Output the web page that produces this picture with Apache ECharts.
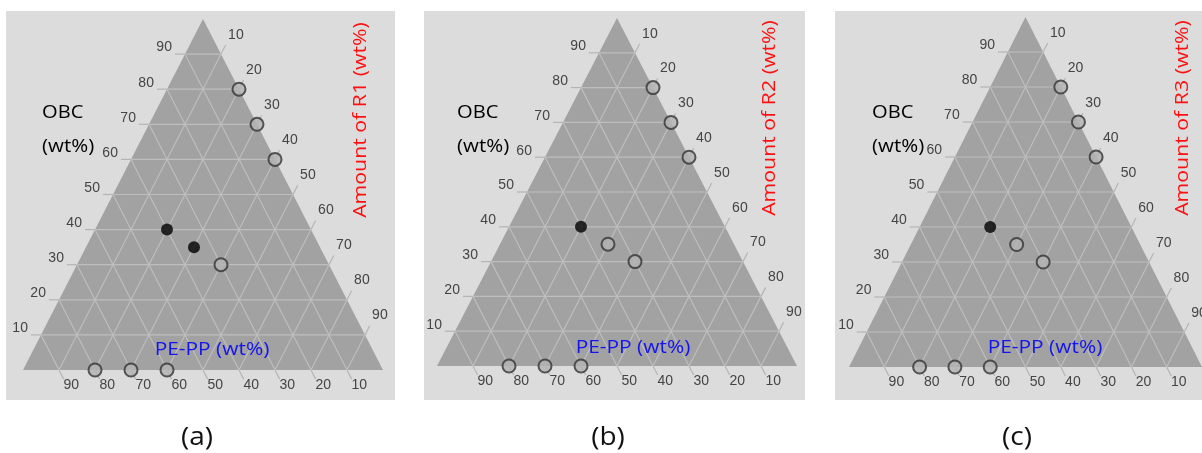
<!DOCTYPE html>
<html>
<head>
<meta charset="utf-8">
<script src="https://cdn.jsdelivr.net/npm/echarts@6/dist/echarts.min.js"></script>
<style>
  html, body { margin: 0; padding: 0; background: #ffffff; }
  #chart { width: 1202px; height: 453px; }
</style>
</head>
<body>
<div id="chart"></div>
<script>
// Ternary grid values (wt%) shared by all three edges
const tickValues = [10, 20, 30, 40, 50, 60, 70, 80, 90];
const tickLabels = ['10', '20', '30', '40', '50', '60', '70', '80', '90'];

// Compositions as [OBC, PE-PP, R] in wt%
const openA   = [[80, 0, 20], [70, 0, 30], [60, 0, 40], [30, 30, 40], [0, 80, 20], [0, 70, 30], [0, 60, 40]];
const filledA = [[40, 40, 20], [35, 35, 30]];
const openB   = [[80, 0, 20], [70, 0, 30], [60, 0, 40], [35, 35, 30], [30, 30, 40], [0, 80, 20], [0, 70, 30], [0, 60, 40]];
const filledB = [[40, 40, 20]];
const openC   = [[80, 0, 20], [70, 0, 30], [60, 0, 40], [35, 35, 30], [30, 30, 40], [0, 80, 20], [0, 70, 30], [0, 60, 40]];
const filledC = [[40, 40, 20]];

// Triangle corners: pure OBC (top), pure PE-PP (bottom left), pure R (bottom right)
const corners = [[100, 0, 0], [0, 100, 0], [0, 0, 100]];

const panelLetters = ['(a)', '(b)', '(c)'];
const resinNames = ['R1', 'R2', 'R3'];
const openSets = [openA, openB, openC];
const filledSets = [filledA, filledB, filledC];

// Panel layout in pixels
const layout = [
  { box: [6, 11, 389, 389],   grid: { left: 23,  top: 19, width: 360, height: 351 },
    obc: [42, 113, 147],  resin: [361, 120],  pe: [212, 350],  letter: [197, 438] },
  { box: [424, 11, 381, 389], grid: { left: 437, top: 18, width: 360, height: 348 },
    obc: [457, 113, 147], resin: [770, 118],  pe: [633, 348],  letter: [608, 438] },
  { box: [835, 11, 380, 389], grid: { left: 849, top: 17, width: 360, height: 350 },
    obc: [872, 113, 147], resin: [1183, 118], pe: [1045, 348], letter: [1017, 438] }
];

// Ternary [OBC, PE-PP, R] -> cartesian [x, y] on a 0..100 frame
function toXY(c) { return [c[2] + c[0] / 2, c[0]]; }

const COLORS = {
  box: '#dcdcdc', tri: '#a2a2a2', grid: '#bebebe', tick: '#b4b4b4',
  tickText: '#444444', open: '#b3b3b3', openBorder: '#333333', filled: '#000000'
};
const TICK_FONT = '14px "Liberation Sans", Arial, sans-serif';
const LABEL_FONT = '19px "Open Sans", "Noto Sans", sans-serif';

function triangleSeries(i) {
  return {
    type: 'custom', xAxisIndex: i, yAxisIndex: i, clip: false, silent: true, z: 1,
    data: [[0, 0]],
    renderItem: function (params, api) {
      const pts = corners.map(function (c) { return api.coord(toXY(c)); });
      return { type: 'polygon', shape: { points: pts }, style: { fill: COLORS.tri } };
    }
  };
}

function gridSeries(i) {
  const eL = 2.8, eR = 2.6, eB = 2.6;      // tick extensions beyond each edge
  return {
    type: 'custom', xAxisIndex: i, yAxisIndex: i, clip: false, silent: true, z: 2,
    data: tickValues.map(function (v, k) { return [v, k]; }),
    renderItem: function (params, api) {
      const v = api.value(0);
      const label = tickLabels[api.value(1)];
      const P = function (c) { return api.coord(toXY(c)); };
      const line = function (a, b, color) {
        const p = P(a), q = P(b);
        return { type: 'line', shape: { x1: p[0], y1: p[1], x2: q[0], y2: q[1] },
                 style: { stroke: color, lineWidth: 1.2 } };
      };
      const text = function (pos, dx, dy, align) {
        return { type: 'text', x: pos[0] + dx, y: pos[1] + dy,
                 style: { text: label, font: TICK_FONT, fill: COLORS.tickText,
                          align: align, verticalAlign: 'middle' } };
      };
      return {
        type: 'group',
        children: [
          // grid lines of constant OBC, R and PE-PP
          line([v, 100 - v, 0], [v, 0, 100 - v], COLORS.grid),
          line([100 - v, 0, v], [0, 100 - v, v], COLORS.grid),
          line([100 - v, v, 0], [0, v, 100 - v], COLORS.grid),
          // outside ticks
          line([v, 100 - v, 0], [v, 100 - v + eL, -eL], COLORS.tick),
          line([100 - v, 0, v], [100 - v + eR, -eR, v], COLORS.tick),
          line([0, v, 100 - v], [-eB, v, 100 - v + eB], COLORS.tick),
          // tick labels
          text(P([v, 100 - v + eL, -eL]), -3, -6.5, 'right'),
          text(P([100 - v + 5.5, -5.5, v]), 5, 0, 'center'),
          text(P([-4.3, v, 100 - v + 4.3]), 4.5, 0, 'center')
        ]
      };
    }
  };
}

function pointSeries(i, set, filled) {
  return {
    type: 'scatter', xAxisIndex: i, yAxisIndex: i, clip: false, silent: true, z: 5,
    symbol: 'circle', symbolSize: filled ? 12 : 13,
    itemStyle: filled
      ? { color: COLORS.filled, borderWidth: 0 }
      : { color: COLORS.open, borderColor: COLORS.openBorder, borderWidth: 2 },
    data: set.map(toXY)
  };
}

const grids = [], xAxes = [], yAxes = [], series = [], graphics = [];
layout.forEach(function (L, i) {
  grids.push(Object.assign({ containLabel: false }, L.grid));
  xAxes.push({ type: 'value', gridIndex: i, min: 0, max: 100, show: false });
  yAxes.push({ type: 'value', gridIndex: i, min: 0, max: 100, show: false });
  series.push(triangleSeries(i), gridSeries(i),
              pointSeries(i, openSets[i], false), pointSeries(i, filledSets[i], true));

  graphics.push({ type: 'rect', z: -10, shape: { x: L.box[0], y: L.box[1], width: L.box[2], height: L.box[3] },
                  style: { fill: COLORS.box } });
  graphics.push({ type: 'text', z: 10, x: L.obc[0], y: L.obc[1], scaleX: 1.06,
                  style: { text: 'OBC', font: LABEL_FONT, fill: '#000000', align: 'left', verticalAlign: 'middle' } });
  graphics.push({ type: 'text', z: 10, x: L.obc[0], y: L.obc[2], scaleX: 1.08,
                  style: { text: '(wt%)', font: LABEL_FONT, fill: '#000000', align: 'left', verticalAlign: 'middle' } });
  graphics.push({ type: 'text', z: 10, x: L.resin[0], y: L.resin[1], rotation: Math.PI / 2, scaleX: 1.12,
                  style: { text: 'Amount of ' + resinNames[i] + ' (wt%)', font: LABEL_FONT, fill: '#ff1010',
                           align: 'center', verticalAlign: 'middle' } });
  graphics.push({ type: 'text', z: 10, x: L.pe[0], y: L.pe[1], scaleX: 1.1,
                  style: { text: 'PE-PP (wt%)', font: LABEL_FONT, fill: '#1414ee', align: 'center', verticalAlign: 'middle' } });
  graphics.push({ type: 'text', z: 10, x: L.letter[0], y: L.letter[1], scaleX: 1.12,
                  style: { text: panelLetters[i], font: '25px "Open Sans", "Noto Sans", sans-serif', fill: '#111111',
                           align: 'center', verticalAlign: 'middle' } });
});

const chart = echarts.init(document.getElementById('chart'), null, { renderer: 'canvas' });
chart.setOption({
  animation: false,
  backgroundColor: '#ffffff',
  grid: grids,
  xAxis: xAxes,
  yAxis: yAxes,
  series: series,
  graphic: { elements: graphics }
});
</script>
</body>
</html>
